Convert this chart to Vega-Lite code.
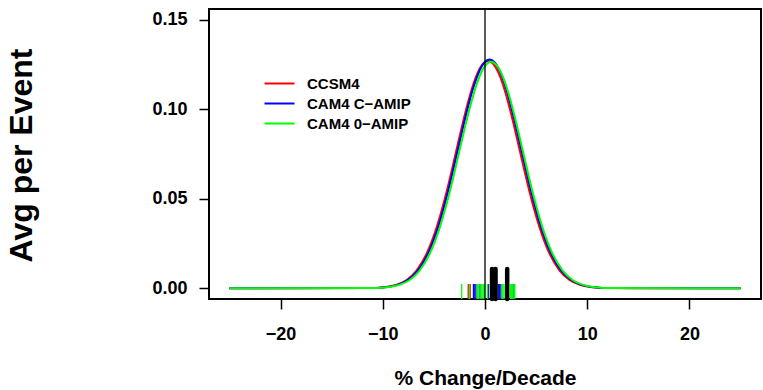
{
  "$schema": "https://vega.github.io/schema/vega-lite/v6.json",
  "width": 552,
  "height": 290,
  "autosize": {"type": "none"},
  "padding": {"left": 209, "top": 9, "right": 2, "bottom": 91},
  "background": "white",
  "config": {
    "font": "Liberation Sans",
    "view": {"stroke": "black", "strokeWidth": 2},
    "axis": {"grid": false, "domain": false, "tickColor": "black", "tickWidth": 1.5, "tickSize": 10, "labelColor": "black", "labelFont": "Liberation Sans", "labelFontWeight": "bold", "labelFontSize": 18, "titleColor": "black", "titleFont": "Liberation Sans", "titleFontWeight": "bold"}
  },
  "datasets": {
    "curves": [
      {"s":"CCSM4","x":-25,"y":0},{"s":"CCSM4","x":-11.7,"y":0.0001},{"s":"CCSM4","x":-10.7,"y":0.0002},{"s":"CCSM4","x":-9.7,"y":0.0007},{"s":"CCSM4","x":-8.7,"y":0.0019},{"s":"CCSM4","x":-7.7,"y":0.0045},{"s":"CCSM4","x":-6.7,"y":0.0099},{"s":"CCSM4","x":-5.7,"y":0.0195},{"s":"CCSM4","x":-5.2,"y":0.0263},{"s":"CCSM4","x":-4.7,"y":0.0346},{"s":"CCSM4","x":-4.2,"y":0.0443},{"s":"CCSM4","x":-3.7,"y":0.0552},{"s":"CCSM4","x":-3.2,"y":0.0671},{"s":"CCSM4","x":-2.7,"y":0.0795},{"s":"CCSM4","x":-2.2,"y":0.0917},{"s":"CCSM4","x":-1.7,"y":0.1031},{"s":"CCSM4","x":-1.2,"y":0.1130},{"s":"CCSM4","x":-0.7,"y":0.1206},{"s":"CCSM4","x":-0.2,"y":0.1254},{"s":"CCSM4","x":0.3,"y":0.1270},{"s":"CCSM4","x":0.8,"y":0.1254},{"s":"CCSM4","x":1.3,"y":0.1206},{"s":"CCSM4","x":1.8,"y":0.1130},{"s":"CCSM4","x":2.3,"y":0.1031},{"s":"CCSM4","x":2.8,"y":0.0917},{"s":"CCSM4","x":3.3,"y":0.0795},{"s":"CCSM4","x":3.8,"y":0.0671},{"s":"CCSM4","x":4.3,"y":0.0552},{"s":"CCSM4","x":4.8,"y":0.0443},{"s":"CCSM4","x":5.3,"y":0.0346},{"s":"CCSM4","x":5.8,"y":0.0263},{"s":"CCSM4","x":6.3,"y":0.0195},{"s":"CCSM4","x":7.3,"y":0.0099},{"s":"CCSM4","x":8.3,"y":0.0045},{"s":"CCSM4","x":9.3,"y":0.0019},{"s":"CCSM4","x":10.3,"y":0.0007},{"s":"CCSM4","x":11.3,"y":0.0002},{"s":"CCSM4","x":12.3,"y":0.0001},{"s":"CCSM4","x":25,"y":0},
      {"s":"CAM4 C\u2212AMIP","x":-25,"y":0},{"s":"CAM4 C\u2212AMIP","x":-11.55,"y":0.0001},{"s":"CAM4 C\u2212AMIP","x":-10.55,"y":0.0002},{"s":"CAM4 C\u2212AMIP","x":-9.55,"y":0.0007},{"s":"CAM4 C\u2212AMIP","x":-8.55,"y":0.0019},{"s":"CAM4 C\u2212AMIP","x":-7.55,"y":0.0046},{"s":"CAM4 C\u2212AMIP","x":-6.55,"y":0.0100},{"s":"CAM4 C\u2212AMIP","x":-5.55,"y":0.0196},{"s":"CAM4 C\u2212AMIP","x":-5.05,"y":0.0265},{"s":"CAM4 C\u2212AMIP","x":-4.55,"y":0.0348},{"s":"CAM4 C\u2212AMIP","x":-4.05,"y":0.0446},{"s":"CAM4 C\u2212AMIP","x":-3.55,"y":0.0556},{"s":"CAM4 C\u2212AMIP","x":-3.05,"y":0.0676},{"s":"CAM4 C\u2212AMIP","x":-2.55,"y":0.0800},{"s":"CAM4 C\u2212AMIP","x":-2.05,"y":0.0923},{"s":"CAM4 C\u2212AMIP","x":-1.55,"y":0.1038},{"s":"CAM4 C\u2212AMIP","x":-1.05,"y":0.1137},{"s":"CAM4 C\u2212AMIP","x":-0.55,"y":0.1213},{"s":"CAM4 C\u2212AMIP","x":-0.05,"y":0.1262},{"s":"CAM4 C\u2212AMIP","x":0.45,"y":0.1278},{"s":"CAM4 C\u2212AMIP","x":0.95,"y":0.1262},{"s":"CAM4 C\u2212AMIP","x":1.45,"y":0.1213},{"s":"CAM4 C\u2212AMIP","x":1.95,"y":0.1137},{"s":"CAM4 C\u2212AMIP","x":2.45,"y":0.1038},{"s":"CAM4 C\u2212AMIP","x":2.95,"y":0.0923},{"s":"CAM4 C\u2212AMIP","x":3.45,"y":0.0800},{"s":"CAM4 C\u2212AMIP","x":3.95,"y":0.0676},{"s":"CAM4 C\u2212AMIP","x":4.45,"y":0.0556},{"s":"CAM4 C\u2212AMIP","x":4.95,"y":0.0446},{"s":"CAM4 C\u2212AMIP","x":5.45,"y":0.0348},{"s":"CAM4 C\u2212AMIP","x":5.95,"y":0.0265},{"s":"CAM4 C\u2212AMIP","x":6.45,"y":0.0196},{"s":"CAM4 C\u2212AMIP","x":7.45,"y":0.0100},{"s":"CAM4 C\u2212AMIP","x":8.45,"y":0.0046},{"s":"CAM4 C\u2212AMIP","x":9.45,"y":0.0019},{"s":"CAM4 C\u2212AMIP","x":10.45,"y":0.0007},{"s":"CAM4 C\u2212AMIP","x":11.45,"y":0.0002},{"s":"CAM4 C\u2212AMIP","x":12.45,"y":0.0001},{"s":"CAM4 C\u2212AMIP","x":25,"y":0},
      {"s":"CAM4 0\u2212AMIP","x":-25,"y":0},{"s":"CAM4 0\u2212AMIP","x":-11.4,"y":0.0001},{"s":"CAM4 0\u2212AMIP","x":-10.4,"y":0.0002},{"s":"CAM4 0\u2212AMIP","x":-9.4,"y":0.0007},{"s":"CAM4 0\u2212AMIP","x":-8.4,"y":0.0019},{"s":"CAM4 0\u2212AMIP","x":-7.4,"y":0.0045},{"s":"CAM4 0\u2212AMIP","x":-6.4,"y":0.0099},{"s":"CAM4 0\u2212AMIP","x":-5.4,"y":0.0194},{"s":"CAM4 0\u2212AMIP","x":-4.9,"y":0.0262},{"s":"CAM4 0\u2212AMIP","x":-4.4,"y":0.0344},{"s":"CAM4 0\u2212AMIP","x":-3.9,"y":0.0441},{"s":"CAM4 0\u2212AMIP","x":-3.4,"y":0.0550},{"s":"CAM4 0\u2212AMIP","x":-2.9,"y":0.0669},{"s":"CAM4 0\u2212AMIP","x":-2.4,"y":0.0792},{"s":"CAM4 0\u2212AMIP","x":-1.9,"y":0.0914},{"s":"CAM4 0\u2212AMIP","x":-1.4,"y":0.1027},{"s":"CAM4 0\u2212AMIP","x":-0.9,"y":0.1125},{"s":"CAM4 0\u2212AMIP","x":-0.4,"y":0.1201},{"s":"CAM4 0\u2212AMIP","x":0.1,"y":0.1249},{"s":"CAM4 0\u2212AMIP","x":0.6,"y":0.1265},{"s":"CAM4 0\u2212AMIP","x":1.1,"y":0.1249},{"s":"CAM4 0\u2212AMIP","x":1.6,"y":0.1201},{"s":"CAM4 0\u2212AMIP","x":2.1,"y":0.1125},{"s":"CAM4 0\u2212AMIP","x":2.6,"y":0.1027},{"s":"CAM4 0\u2212AMIP","x":3.1,"y":0.0914},{"s":"CAM4 0\u2212AMIP","x":3.6,"y":0.0792},{"s":"CAM4 0\u2212AMIP","x":4.1,"y":0.0669},{"s":"CAM4 0\u2212AMIP","x":4.6,"y":0.0550},{"s":"CAM4 0\u2212AMIP","x":5.1,"y":0.0441},{"s":"CAM4 0\u2212AMIP","x":5.6,"y":0.0344},{"s":"CAM4 0\u2212AMIP","x":6.1,"y":0.0262},{"s":"CAM4 0\u2212AMIP","x":6.6,"y":0.0194},{"s":"CAM4 0\u2212AMIP","x":7.6,"y":0.0099},{"s":"CAM4 0\u2212AMIP","x":8.6,"y":0.0045},{"s":"CAM4 0\u2212AMIP","x":9.6,"y":0.0019},{"s":"CAM4 0\u2212AMIP","x":10.6,"y":0.0007},{"s":"CAM4 0\u2212AMIP","x":11.6,"y":0.0002},{"s":"CAM4 0\u2212AMIP","x":12.6,"y":0.0001},{"s":"CAM4 0\u2212AMIP","x":25,"y":0}
    ],
    "rug": [
      {"s":"CCSM4","x":-1.64},{"s":"CCSM4","x":-1.45},{"s":"CCSM4","x":1.4},
      {"s":"CAM4 C\u2212AMIP","x":-1.13},{"s":"CAM4 C\u2212AMIP","x":-1.0},{"s":"CAM4 C\u2212AMIP","x":-0.88},{"s":"CAM4 C\u2212AMIP","x":-0.49},{"s":"CAM4 C\u2212AMIP","x":0.34},{"s":"CAM4 C\u2212AMIP","x":1.3},{"s":"CAM4 C\u2212AMIP","x":1.45},{"s":"CAM4 C\u2212AMIP","x":1.57},{"s":"CAM4 C\u2212AMIP","x":2.75},
      {"s":"CAM4 0\u2212AMIP","x":-2.28},{"s":"CAM4 0\u2212AMIP","x":-1.52},{"s":"CAM4 0\u2212AMIP","x":-0.78},{"s":"CAM4 0\u2212AMIP","x":-0.7},{"s":"CAM4 0\u2212AMIP","x":-0.6},{"s":"CAM4 0\u2212AMIP","x":-0.4},{"s":"CAM4 0\u2212AMIP","x":-0.3},{"s":"CAM4 0\u2212AMIP","x":-0.18},{"s":"CAM4 0\u2212AMIP","x":-0.08},{"s":"CAM4 0\u2212AMIP","x":0.25},{"s":"CAM4 0\u2212AMIP","x":1.18},{"s":"CAM4 0\u2212AMIP","x":1.65},{"s":"CAM4 0\u2212AMIP","x":1.75},{"s":"CAM4 0\u2212AMIP","x":1.86},{"s":"CAM4 0\u2212AMIP","x":2.5},{"s":"CAM4 0\u2212AMIP","x":2.6},{"s":"CAM4 0\u2212AMIP","x":2.7},{"s":"CAM4 0\u2212AMIP","x":2.85},{"s":"CAM4 0\u2212AMIP","x":2.92}
    ],
    "obs": [{"x":0.69},{"x":1.03},{"x":2.17}],
    "zero": [{"x":0}]
  },
  "layer": [
    {
      "data": {"name": "curves"},
      "mark": {"type": "line", "strokeWidth": 2, "interpolate": "monotone"},
      "encoding": {
        "x": {"field": "x", "type": "quantitative", "scale": {"domain": [-27, 27], "nice": false, "zero": false}, "axis": {"values": [-20, -10, 0, 10, 20], "title": "% Change/Decade", "titleFontSize": 21, "labelPadding": 16, "titleY": 79, "titleBaseline": "middle"}},
        "y": {"field": "y", "type": "quantitative", "scale": {"domain": [-0.006, 0.156], "nice": false, "zero": false}, "axis": {"values": [0, 0.05, 0.1, 0.15], "format": ".2f", "title": "Avg per Event", "titleFontSize": 32, "labelPadding": 12, "titleX": -188, "titleY": 146, "titleAngle": -90, "titleAlign": "center", "titleBaseline": "middle"}},
        "color": {"field": "s", "type": "nominal", "scale": {"domain": ["CCSM4", "CAM4 C\u2212AMIP", "CAM4 0\u2212AMIP"], "range": ["#FF0000", "#0000FF", "#00FF00"]},
          "legend": {"title": null, "orient": "none", "legendX": 63, "legendY": 67, "symbolType": "M-3,0H3", "symbolSize": 100, "symbolStrokeWidth": 2, "labelFont": "Liberation Sans", "labelFontSize": 15, "labelFontWeight": "bold", "labelColor": "black", "labelOffset": 20, "rowPadding": 4}}
      }
    },
    {
      "data": {"name": "rug"},
      "mark": {"type": "rule", "strokeWidth": 1.3},
      "encoding": {
        "x": {"field": "x", "type": "quantitative"},
        "y": {"datum": -0.006, "type": "quantitative"},
        "y2": {"datum": 0.0024},
        "color": {"field": "s", "type": "nominal"}
      }
    },
    {
      "data": {"name": "obs"},
      "mark": {"type": "rule", "strokeWidth": 4.5, "color": "black", "strokeCap": "round"},
      "encoding": {
        "x": {"field": "x", "type": "quantitative"},
        "y": {"datum": -0.006, "type": "quantitative"},
        "y2": {"datum": 0.0108}
      }
    },
    {
      "data": {"name": "zero"},
      "mark": {"type": "rule", "strokeWidth": 1.3, "color": "black"},
      "encoding": {"x": {"field": "x", "type": "quantitative"}}
    }
  ]
}
